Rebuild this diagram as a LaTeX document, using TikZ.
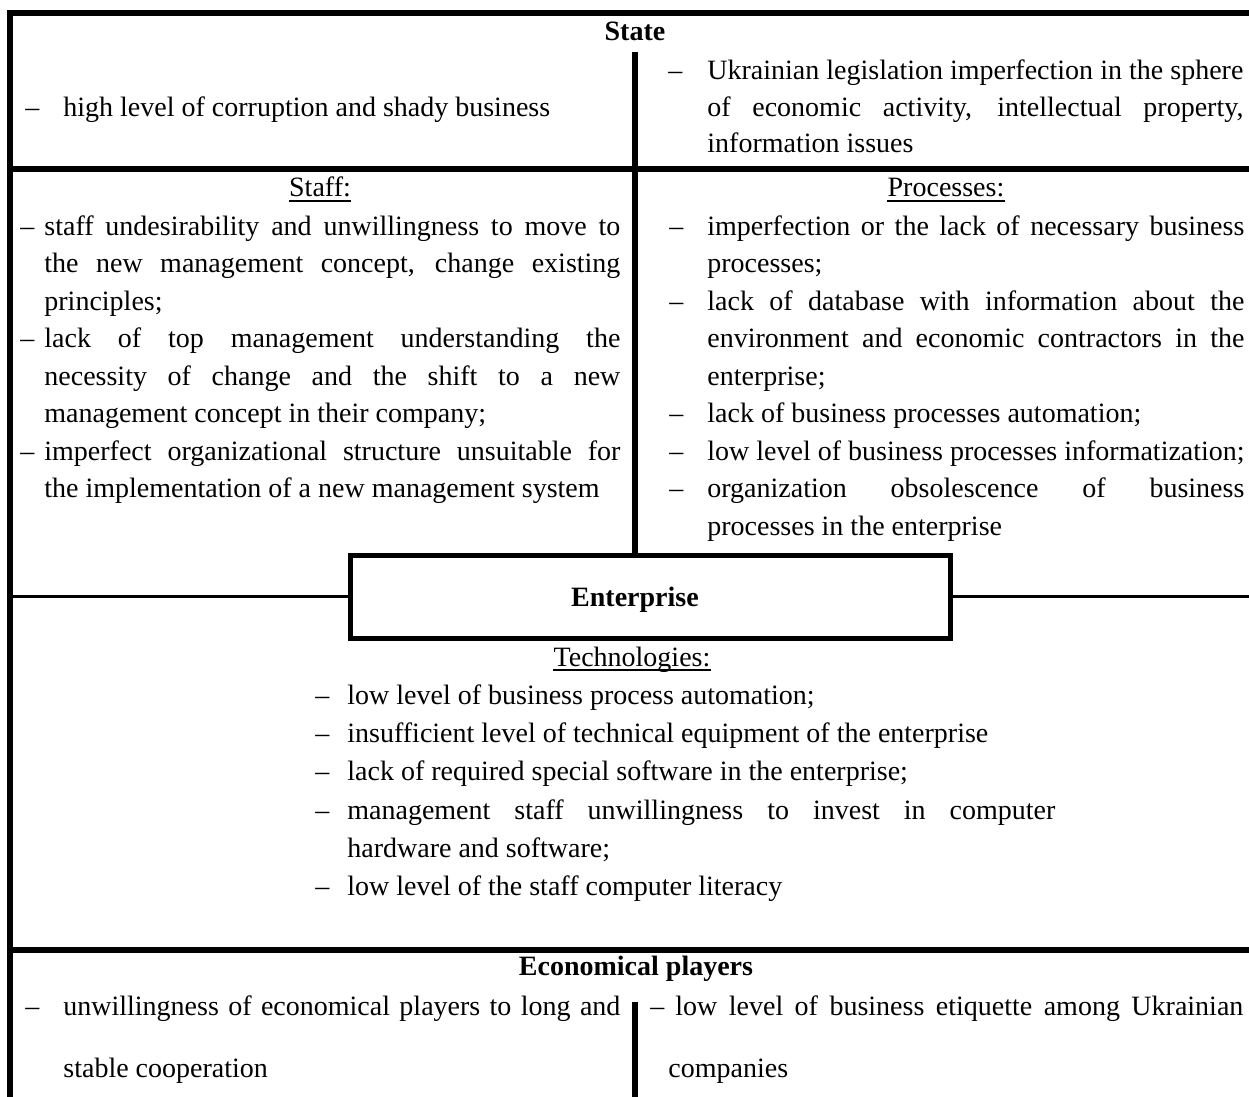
\documentclass[tikz,border=0pt]{standalone}
\usepackage{fontspec}
\setmainfont{Liberation Serif}
% leading dash of a list item, set in a box of the given width
\newcommand\lead[1]{\makebox[#1][l]{–}}
% a justified line of the given width
\newcommand\jus[2]{\makebox[#1][s]{#2}}
\begin{document}
\begin{tikzpicture}[x=0.5pt,y=-0.5pt,
  heavy/.style={line width=3pt},
  light/.style={line width=1.2pt},
  uline/.style={line width=0.8pt},
  txt/.style={inner sep=0pt, anchor=base west, font=\fontsize{14}{16}\selectfont},
  ttl/.style={inner sep=0pt, anchor=base, font=\fontsize{14}{16}\selectfont\bfseries},
  sub/.style={inner sep=0pt, anchor=base, font=\fontsize{14}{16}\selectfont},
  entbox/.style={draw, line width=2.5pt, minimum width=300pt, minimum height=41.5pt, inner sep=0pt}]
\useasboundingbox (0,0) rectangle (1249,1097);

% ---- frame and separators ----
\coordinate (tr) at (1249,13);
\coordinate (tl) at (9.5,13);
\coordinate (bl) at (9.5,1097);
\draw[heavy, line join=miter] (tr) -- (tl) -- (bl);

\coordinate (s1l) at (9.5,169);
\coordinate (s1r) at (1249,169);
\draw[heavy] (s1l) -- (s1r);

\coordinate (s2l) at (9.5,950);
\coordinate (s2r) at (1249,950);
\draw[heavy] (s2l) -- (s2r);

% central box
\node[entbox] (ent) at (650.5,596.5) {};
\node[ttl] (enttext) at (635,606) {Enterprise};

\coordinate (el) at (9.5,596.5);
\coordinate (er) at (1249,596.5);
\draw[light] (el) -- (ent.west);
\draw[light] (ent.east) -- (er);

% column dividers
\coordinate (vtop) at (635,52);
\draw[heavy] (vtop) -- (vtop |- ent.north);
\coordinate (vbt) at (635,1002);
\coordinate (vbb) at (635,1097);
\draw[heavy] (vbt) -- (vbb);

% ---- State ----
\node[ttl] (state) at (635,41) {State};
\node[txt] (stl1) at (25,117) {\lead{19pt}high level of corruption and shady business};
\node[txt] (str1) at (668,80) {\lead{19.5pt}\jus{268pt}{Ukrainian legislation imperfection in the sphere}};
\node[txt] (str2) at (707,117) {\jus{268pt}{of economic activity, intellectual property,}};
\node[txt] (str3) at (707,153) {information issues};

% ---- Staff ----
\node[sub] (staff) at (320,197) {Staff:};
\draw[uline] ([yshift=-2pt]staff.base west) -- ([yshift=-2pt]staff.base east);
\node[txt] (sf1) at (20,235) {\lead{12pt}\jus{288pt}{staff undesirability and unwillingness to move to}};
\node[txt] (sf2) at (44,272.5) {\jus{288pt}{the new management concept, change existing}};
\node[txt] (sf3) at (44,310) {principles;};
\node[txt] (sf4) at (20,347.5) {\lead{12pt}\jus{288pt}{lack of top management understanding the}};
\node[txt] (sf5) at (44,385) {\jus{288pt}{necessity of change and the shift to a new}};
\node[txt] (sf6) at (44,422.5) {management concept in their company;};
\node[txt] (sf7) at (20,460) {\lead{12pt}\jus{288pt}{imperfect organizational structure unsuitable for}};
\node[txt] (sf8) at (44,497.5) {the implementation of a new management system};

% ---- Processes ----
\node[sub] (proc) at (946,197) {Processes:};
\draw[uline] ([yshift=-2pt]proc.base west) -- ([yshift=-2pt]proc.base east);
\node[txt] (pr1) at (669,235) {\lead{19pt}\jus{268.5pt}{imperfection or the lack of necessary business}};
\node[txt] (pr2) at (707,272.5) {processes;};
\node[txt] (pr3) at (669,310) {\lead{19pt}\jus{268.5pt}{lack of database with information about the}};
\node[txt] (pr4) at (707,347.5) {\jus{268.5pt}{environment and economic contractors in the}};
\node[txt] (pr5) at (707,385) {enterprise;};
\node[txt] (pr6) at (669,422.5) {\lead{19pt}lack of business processes automation;};
\node[txt] (pr7) at (669,460) {\lead{19pt}low level of business processes informatization;};
\node[txt] (pr8) at (669,497.5) {\lead{19pt}\jus{268.5pt}{organization obsolescence of business}};
\node[txt] (pr9) at (707,535) {processes in the enterprise};

% ---- Technologies ----
\node[sub] (tech) at (632,666) {Technologies:};
\draw[uline] ([yshift=-2pt]tech.base west) -- ([yshift=-2pt]tech.base east);
\node[txt] (tc1) at (315,704) {\lead{16pt}low level of business process automation;};
\node[txt] (tc2) at (315,742) {\lead{16pt}insufficient level of technical equipment of the enterprise};
\node[txt] (tc3) at (315,780) {\lead{16pt}lack of required special software in the enterprise;};
\node[txt] (tc4) at (315,819) {\lead{16pt}\jus{354pt}{management staff unwillingness to invest in computer}};
\node[txt] (tc5) at (347,857) {hardware and software;};
\node[txt] (tc6) at (315,895) {\lead{16pt}low level of the staff computer literacy};

% ---- Economical players ----
\node[ttl] (econ) at (636,975) {Economical players};
\node[txt] (ec1) at (25,1015) {\lead{19pt}\jus{278.5pt}{unwillingness of economical players to long and}};
\node[txt] (ec2) at (63,1077) {stable cooperation};
\node[txt] (ec3) at (650,1015) {\lead{12.5pt}\jus{284pt}{low level of business etiquette among Ukrainian}};
\node[txt] (ec4) at (668,1077) {companies};
\end{tikzpicture}
\end{document}
